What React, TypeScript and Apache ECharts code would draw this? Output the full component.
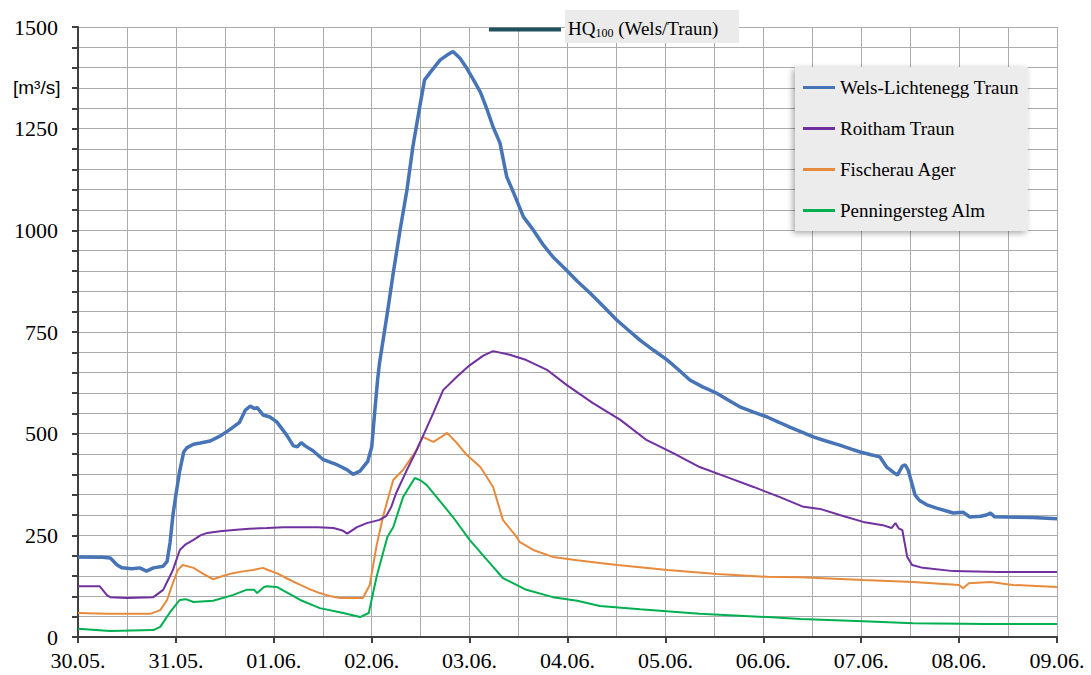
import React, { useEffect, useRef } from "react";
import * as echarts from "echarts";

const dayLabels = ["30.05.", "31.05.", "01.06.", "02.06.", "03.06.", "04.06.", "05.06.", "06.06.", "07.06.", "08.06.", "09.06."];
const yTicks = [0, 250, 500, 750, 1000, 1250, 1500];
const seriesNames = ["Wels-Lichtenegg Traun", "Roitham Traun", "Fischerau Ager", "Penningersteg Alm"];
const hqLabel = "HQ100 (Wels/Traun)";

// [days since 30.05. 00:00, discharge m³/s]
const wels = [
  [0, 197], [0.25, 196], [0.33, 194], [0.4, 177], [0.45, 170], [0.55, 168], [0.63, 170], [0.7, 162], [0.77, 170],
  [0.87, 174], [0.91, 186], [0.94, 232], [0.97, 300], [1.0, 350], [1.04, 410], [1.08, 455], [1.11, 465], [1.18, 474],
  [1.25, 477], [1.35, 482], [1.45, 494], [1.55, 510], [1.65, 528], [1.71, 558], [1.76, 568], [1.8, 562], [1.83, 564],
  [1.89, 546], [1.96, 541], [2.03, 529], [2.13, 497], [2.2, 470], [2.24, 468], [2.28, 478], [2.32, 470], [2.4, 458],
  [2.5, 437], [2.65, 423], [2.75, 411], [2.81, 400], [2.88, 408], [2.96, 432], [3.0, 467], [3.03, 551], [3.06, 632],
  [3.08, 674], [3.16, 797], [3.22, 895], [3.29, 1001], [3.36, 1099], [3.42, 1205], [3.49, 1303], [3.54, 1370],
  [3.6, 1389], [3.7, 1419], [3.77, 1431], [3.83, 1440], [3.9, 1424], [3.97, 1399], [4.04, 1370], [4.11, 1340],
  [4.18, 1296], [4.24, 1254], [4.31, 1215], [4.38, 1131], [4.45, 1092], [4.55, 1033], [4.65, 1001], [4.75, 965],
  [4.85, 935], [4.99, 902], [5.1, 875], [5.23, 846], [5.37, 812], [5.5, 780], [5.62, 755], [5.74, 730], [5.88, 705],
  [6.02, 681], [6.14, 656], [6.25, 632], [6.38, 615], [6.52, 600], [6.64, 583], [6.76, 566], [6.9, 553], [7.04, 541],
  [7.16, 528], [7.27, 516], [7.4, 503], [7.51, 492], [7.64, 482], [7.78, 472], [7.9, 462], [7.99, 455], [8.1, 448],
  [8.19, 443], [8.26, 418], [8.33, 405], [8.37, 398], [8.42, 420], [8.45, 423], [8.48, 410], [8.5, 393], [8.55, 349],
  [8.6, 335], [8.67, 325], [8.77, 317], [8.94, 305], [9.04, 307], [9.11, 295], [9.22, 297], [9.28, 300], [9.32, 305],
  [9.36, 296], [9.49, 295], [9.75, 294], [10, 291],
];

const roitham = [
  [0, 125], [0.22, 125], [0.3, 102], [0.33, 98], [0.5, 96], [0.77, 98], [0.87, 116], [0.93, 145], [0.97, 165],
  [1.04, 214], [1.1, 228], [1.18, 239], [1.25, 250], [1.32, 256], [1.45, 260], [1.59, 263], [1.75, 266], [1.93, 268],
  [2.1, 270], [2.27, 270], [2.45, 270], [2.61, 268], [2.7, 262], [2.75, 254], [2.8, 262], [2.85, 270], [2.95, 280],
  [3.08, 288], [3.15, 298], [3.2, 320], [3.25, 354], [3.36, 411], [3.45, 455], [3.52, 492], [3.63, 551], [3.73, 607],
  [3.87, 640], [4.0, 668], [4.14, 692], [4.24, 703], [4.41, 694], [4.58, 681], [4.79, 657], [4.99, 620], [5.26, 575],
  [5.54, 534], [5.81, 484], [6.08, 452], [6.35, 418], [6.63, 393], [6.9, 369], [7.17, 344], [7.41, 320], [7.58, 315],
  [7.78, 300], [8.02, 283], [8.22, 275], [8.31, 268], [8.35, 280], [8.38, 268], [8.42, 263], [8.47, 197], [8.52, 177],
  [8.63, 170], [8.94, 162], [9.39, 160], [10, 160],
];

const fischerau = [
  [0, 59], [0.3, 57], [0.74, 57], [0.84, 66], [0.91, 91], [0.97, 133], [1.02, 165], [1.07, 177], [1.18, 170],
  [1.28, 155], [1.38, 142], [1.48, 150], [1.58, 157], [1.7, 162], [1.79, 165], [1.89, 170], [1.96, 163], [2.03, 157],
  [2.15, 142], [2.27, 128], [2.37, 117], [2.47, 108], [2.58, 100], [2.68, 96], [2.91, 96], [2.98, 128], [3.05, 225],
  [3.12, 300], [3.16, 335], [3.22, 386], [3.32, 411], [3.46, 460], [3.52, 492], [3.63, 480], [3.7, 490], [3.77, 502],
  [3.87, 477], [3.97, 448], [4.11, 418], [4.24, 369], [4.34, 288], [4.48, 246], [4.51, 234], [4.65, 214], [4.85, 197],
  [5.1, 189], [5.33, 182], [5.51, 177], [6.02, 165], [6.53, 155], [7.04, 148], [7.38, 147], [8.02, 140], [8.53, 135],
  [9.0, 128], [9.04, 120], [9.1, 132], [9.32, 135], [9.55, 128], [10, 123],
];

const penninger = [
  [0, 20], [0.33, 15], [0.77, 17], [0.84, 25], [0.94, 61], [1.04, 91], [1.1, 93], [1.18, 86], [1.38, 89], [1.58, 103],
  [1.72, 116], [1.8, 116], [1.83, 108], [1.9, 123], [1.93, 125], [2.03, 123], [2.15, 107], [2.27, 91], [2.47, 71],
  [2.71, 59], [2.88, 49], [2.97, 59], [3.05, 148], [3.16, 246], [3.22, 270], [3.32, 344], [3.44, 391], [3.5, 385],
  [3.56, 374], [3.67, 342], [3.83, 295], [4.0, 239], [4.18, 189], [4.34, 145], [4.58, 116], [4.85, 98], [5.1, 89],
  [5.33, 76], [5.74, 68], [6.35, 57], [7.04, 49], [7.38, 44], [8.02, 39], [8.53, 34], [9.28, 32], [10, 32],
];

const colors = ["#4674b6", "#7030a0", "#e88a3c", "#00b050"];
const widths = [3.5, 2, 2, 2];
const dataSets = [wels, roitham, fischerau, penninger];

const SERIF = "Liberation Serif";

export default function App() {
  const ref = useRef<HTMLDivElement>(null);
  useEffect(() => {
    if (!ref.current) return;
    const chart = echarts.init(ref.current, undefined, { renderer: "svg" });
    chart.setOption({
      animation: false,
      backgroundColor: "#ffffff",
      textStyle: { fontFamily: SERIF },
      grid: { left: 78, top: 27, right: 34, bottom: 38, containLabel: false },
      xAxis: {
        type: "value",
        min: 0,
        max: dayLabels.length - 1,
        interval: 1,
        axisLine: { show: true, onZero: false, lineStyle: { color: "#404040", width: 2 } },
        axisTick: { show: true, length: 6, lineStyle: { color: "#404040", width: 2 } },
        minorTick: { show: false, splitNumber: 2 },
        splitLine: { show: true, lineStyle: { color: "#ababab", width: 1 } },
        minorSplitLine: { show: true, lineStyle: { color: "#ababab", width: 1 } },
        axisLabel: {
          formatter: (v: number) => dayLabels[Math.round(v)] ?? "",
          fontFamily: SERIF,
          fontSize: 22,
          color: "#000",
          margin: 12,
        },
      },
      yAxis: {
        type: "value",
        min: yTicks[0],
        max: yTicks[yTicks.length - 1],
        interval: 250,
        axisLine: { show: true, lineStyle: { color: "#404040", width: 2 } },
        axisTick: { show: true, length: 6, lineStyle: { color: "#404040", width: 2 } },
        minorTick: { show: true, splitNumber: 5, length: 6, lineStyle: { color: "#404040", width: 2 } },
        splitLine: { show: true, lineStyle: { color: "#ababab", width: 1 } },
        minorSplitLine: { show: true, lineStyle: { color: "#ababab", width: 1 } },
        axisLabel: {
          formatter: (v: number) => String(v),
          fontFamily: SERIF,
          fontSize: 22,
          color: "#000",
          margin: 20,
        },
      },
      legend: {
        orient: "vertical",
        left: 795,
        top: 67,
        data: seriesNames,
        icon: "rect",
        backgroundColor: "#ececec",
        padding: [11, 9, 11, 8],
        itemGap: 22,
        itemWidth: 32,
        itemHeight: 3,
        shadowBlur: 6,
        shadowColor: "rgba(0,0,0,0.35)",
        shadowOffsetX: -2,
        shadowOffsetY: 2,
        textStyle: { fontFamily: SERIF, fontSize: 19, color: "#000", lineHeight: 19 },
      },
      graphic: [
        {
          type: "rect",
          shape: { x: 565, y: 10, width: 174, height: 33 },
          style: { fill: "#ebebeb" },
          z: 10,
        },
        {
          type: "line",
          shape: { x1: 489, y1: 29.5, x2: 561, y2: 29.5 },
          style: { stroke: "#22505f", lineWidth: 4 },
          z: 11,
        },
        {
          type: "text",
          x: 568,
          y: 28,
          z: 11,
          style: {
            text: "{a|HQ}{b|100}{a| (Wels/Traun)}",
            verticalAlign: "middle",
            rich: {
              a: { fontFamily: SERIF, fontSize: 19, lineHeight: 22, fill: "#000" },
              b: { fontFamily: SERIF, fontSize: 12, lineHeight: 12, fill: "#000", verticalAlign: "bottom" },
            },
          },
        },
        {
          type: "text",
          x: 13,
          y: 87,
          style: {
            text: "[m³/s]",
            fontFamily: "Liberation Sans",
            fontSize: 19,
            fill: "#000",
            verticalAlign: "middle",
          },
        },
      ],
      series: seriesNames.map((name, i) => ({
        name,
        type: "line",
        data: dataSets[i],
        symbol: "none",
        smooth: false,
        z: 10 - i,
        lineStyle: { color: colors[i], width: widths[i] },
        itemStyle: { color: colors[i] },
      })),
    });
    return () => chart.dispose();
  }, []);
  return (
    <div
      ref={ref}
      style={{ position: "fixed", left: 0, top: 0, width: 1091, height: 675, background: "#fff" }}
      aria-label={hqLabel}
    />
  );
}
